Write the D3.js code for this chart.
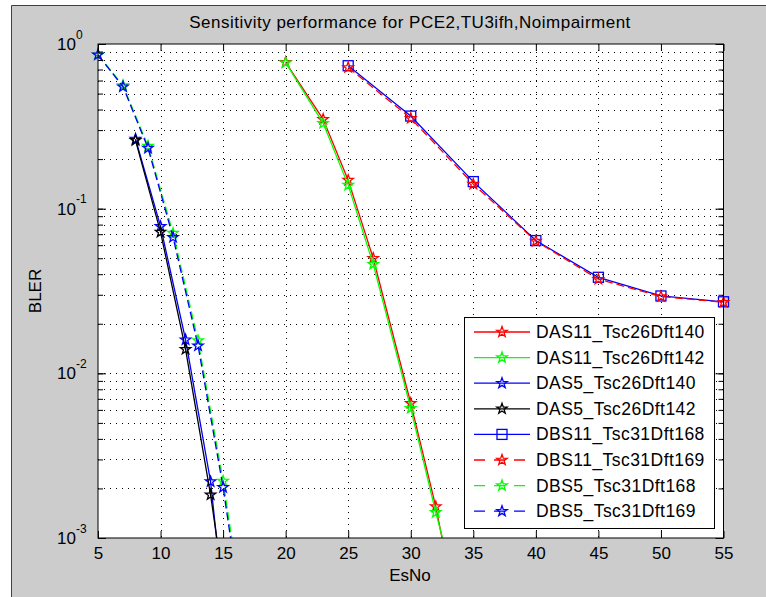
<!DOCTYPE html>
<html>
<head>
<meta charset="utf-8">
<script src="https://cdn.jsdelivr.net/npm/d3@7"></script>
<style>
  body { margin: 0; background: #fff; }
  svg text { font-family: "Liberation Sans", Arial, Helvetica, sans-serif; fill: #000; }
</style>
</head>
<body>
<svg id="chart" width="766" height="597"></svg>
<script>
// Data
let xTicks = [5, 10, 15, 20, 25, 30, 35, 40, 45, 50, 55];
let yMajor = [1, 0.1, 0.01, 0.001];
let yExp = ["0", "-1", "-2", "-3"];

let das11_140_x = [20, 23, 25, 27, 30, 32, 34];
let das11_140_y = [0.774, 0.349, 0.149, 0.050, 0.00658, 0.00155, 0.00027];
let das11_142_x = [20, 23, 25, 27, 30, 32, 34];
let das11_142_y = [0.77, 0.33, 0.139, 0.046, 0.00614, 0.00143, 0.00038];
let das5_140_x = [8, 10, 12, 14, 16];
let das5_140_y = [0.265, 0.078, 0.016, 0.0022, 0.00008];
let das5_142_x = [8, 10, 12, 14, 16];
let das5_142_y = [0.26, 0.072, 0.014, 0.00183, 0.00016];
let dbs11_168_x = [25, 30, 35, 40, 45, 50, 55];
let dbs11_168_y = [0.738, 0.365, 0.146, 0.064, 0.0383, 0.0295, 0.0272];
let dbs11_169_x = [25, 30, 35, 40, 45, 50, 55];
let dbs11_169_y = [0.72, 0.354, 0.141, 0.0635, 0.0373, 0.0293, 0.027];
let dbs5_168_x = [5, 7, 9, 11, 13, 15, 17];
let dbs5_168_y = [0.86, 0.56, 0.24, 0.071, 0.0158, 0.00222, 0.00022];
let dbs5_169_x = [5, 7, 9, 11, 13, 15, 17];
let dbs5_169_y = [0.86, 0.55, 0.233, 0.067, 0.0147, 0.00203, 0.00019];

let names = ["DAS11_Tsc26Dft140", "DAS11_Tsc26Dft142", "DAS5_Tsc26Dft140", "DAS5_Tsc26Dft142",
             "DBS11_Tsc31Dft168", "DBS11_Tsc31Dft169", "DBS5_Tsc31Dft168", "DBS5_Tsc31Dft169"];
let colors = ["#ff0000", "#00ff00", "#0000ff", "#000000", "#0000ff", "#ff0000", "#00ff00", "#0000ff"];
let dashed = [false, false, false, false, false, true, true, true];
let markers = ["star", "star", "star", "star", "square", "star", "star", "star"];
let xs = [das11_140_x, das11_142_x, das5_140_x, das5_142_x, dbs11_168_x, dbs11_169_x, dbs5_168_x, dbs5_169_x];
let ys = [das11_140_y, das11_142_y, das5_140_y, das5_142_y, dbs11_168_y, dbs11_169_y, dbs5_168_y, dbs5_169_y];

let svg = d3.select("#chart");

// figure background
svg.append("rect").attr("x", 11).attr("y", 5).attr("width", 755).attr("height", 592).attr("fill", "#cccccc");
svg.append("path").attr("d", "M11.5,597V5.5H766").attr("fill", "none").attr("stroke", "#404040");

let pLeft = 98, pRight = 723.5, pTop = 44, pBottom = 538;
let x = d3.scaleLinear().domain([5, 55]).range([pLeft, pRight]);
let y = d3.scaleLog().domain([0.001, 1]).range([pBottom, pTop]);

svg.append("rect").attr("x", pLeft).attr("y", pTop).attr("width", pRight - pLeft).attr("height", pBottom - pTop).attr("fill", "#fff");

// grid
let grid = svg.append("g").attr("stroke", "#000").attr("stroke-width", 1).attr("stroke-dasharray", "1,5");
grid.selectAll(".gx").data(xTicks.slice(1, -1)).join("line")
  .attr("x1", d => Math.round(x(d)) + 0.5).attr("x2", d => Math.round(x(d)) + 0.5)
  .attr("y1", pTop).attr("y2", pBottom);
let yAll = y.ticks().filter(d => d > 0.001 && d < 1);
grid.selectAll(".gy").data(yAll).join("line")
  .attr("x1", pLeft).attr("x2", pRight)
  .attr("y1", d => Math.round(y(d)) + 0.5).attr("y2", d => Math.round(y(d)) + 0.5);

// clip for data
svg.append("clipPath").attr("id", "clip").append("rect")
  .attr("x", pLeft - 10).attr("y", pTop - 10).attr("width", pRight - pLeft + 20).attr("height", pBottom - pTop + 10);

let line = d3.line().x(d => x(d[0])).y(d => y(d[1]));

function starPath(cx, cy, r) {
  let pts = [];
  for (let i = 0; i < 10; i++) {
    let rr = i % 2 === 0 ? r : r * 0.4;
    let a = -Math.PI / 2 + i * Math.PI / 5;
    pts.push([cx + rr * Math.cos(a), cy + rr * Math.sin(a)]);
  }
  return "M" + pts.map(p => p.join(",")).join("L") + "Z";
}

function drawMarker(g, type, cx, cy, color) {
  if (type === "square") {
    g.append("rect").attr("x", cx - 5).attr("y", cy - 5).attr("width", 10).attr("height", 10)
      .attr("fill", "none").attr("stroke", color).attr("stroke-width", 1.3);
  } else {
    g.append("path").attr("d", starPath(cx, cy, 5.5))
      .attr("fill", "none").attr("stroke", color).attr("stroke-width", 1.3);
  }
}

let plot = svg.append("g").attr("clip-path", "url(#clip)");
for (let i = 0; i < names.length; i++) {
  let pts = xs[i].map((v, j) => [v, ys[i][j]]);
  let g = plot.append("g");
  g.append("path").datum(pts).attr("d", line)
    .attr("fill", "none").attr("stroke", colors[i]).attr("stroke-width", 1.3)
    .attr("stroke-dasharray", dashed[i] ? "8,4" : null);
  pts.filter(p => p[1] >= 0.001).forEach(p => drawMarker(g, markers[i], x(p[0]), y(p[1]), colors[i]));
}

// axes
let axB = d3.axisBottom(x).tickValues(xTicks).tickSizeInner(-7).tickSizeOuter(0).tickPadding(9);
let axT = d3.axisTop(x).tickValues(xTicks).tickSizeInner(-7).tickSizeOuter(0).tickFormat("");
let axL = d3.axisLeft(y).tickValues(yMajor).tickSizeInner(-8).tickSizeOuter(0).tickFormat("");
let axR = d3.axisRight(y).tickValues(yMajor).tickSizeInner(-8).tickSizeOuter(0).tickFormat("");
let axLm = d3.axisLeft(y).tickValues(yAll).tickSizeInner(-5).tickSizeOuter(0).tickFormat("");
let axRm = d3.axisRight(y).tickValues(yAll).tickSizeInner(-5).tickSizeOuter(0).tickFormat("");

function styleAxis(g) {
  g.select(".domain").remove();
  g.selectAll("line").attr("stroke", "#000");
  g.selectAll("text").attr("font-size", 17).attr("fill", "#222");
}
svg.append("g").attr("transform", `translate(0,${pBottom})`).call(axB).call(styleAxis);
svg.append("g").attr("transform", `translate(0,${pTop})`).call(axT).call(styleAxis);
svg.append("g").attr("transform", `translate(${pLeft},0)`).call(axL).call(styleAxis);
svg.append("g").attr("transform", `translate(${pRight},0)`).call(axR).call(styleAxis);
svg.append("g").attr("transform", `translate(${pLeft},0)`).call(axLm).call(styleAxis);
svg.append("g").attr("transform", `translate(${pRight},0)`).call(axRm).call(styleAxis);

svg.append("rect").attr("x", pLeft).attr("y", pTop).attr("width", pRight - pLeft).attr("height", pBottom - pTop)
  .attr("fill", "none").attr("stroke", "#000").attr("stroke-width", 1);

// y tick labels with exponents
yMajor.forEach((v, i) => {
  let t = svg.append("text").attr("x", 57).attr("y", y(v) + 6).attr("font-size", 17).attr("fill", "#222");
  t.append("tspan").text("10");
  t.append("tspan").attr("font-size", 12).attr("dy", -11.5).text(yExp[i]);
});

// titles
svg.append("text").attr("x", 410).attr("y", 28).attr("text-anchor", "middle").attr("font-size", 17)
  .attr("letter-spacing", 0.5).attr("fill", "#222")
  .text("Sensitivity performance for PCE2,TU3ifh,Noimpairment");
svg.append("text").attr("x", 410).attr("y", 581).attr("text-anchor", "middle").attr("font-size", 17)
  .attr("fill", "#222").text("EsNo");
svg.append("text").attr("transform", "translate(41,291) rotate(-90)").attr("text-anchor", "middle")
  .attr("font-size", 17).attr("fill", "#222").text("BLER");

// legend
let lg = svg.append("g");
lg.append("rect").attr("x", 464.5).attr("y", 317.5).attr("width", 250).attr("height", 211)
  .attr("fill", "#fff").attr("stroke", "#000");
names.forEach((n, i) => {
  let ly = 332 + i * 25.6;
  lg.append("line").attr("x1", 474).attr("x2", 530).attr("y1", ly).attr("y2", ly)
    .attr("stroke", colors[i]).attr("stroke-width", 1.3)
    .attr("stroke-dasharray", dashed[i] ? "11,9" : null);
  drawMarker(lg, markers[i], 502, ly, colors[i]);
  lg.append("text").attr("x", 536).attr("y", ly + 6).attr("font-size", 17.5)
    .attr("letter-spacing", 0.45).attr("fill", "#222").text(n);
});
</script>
</body>
</html>
